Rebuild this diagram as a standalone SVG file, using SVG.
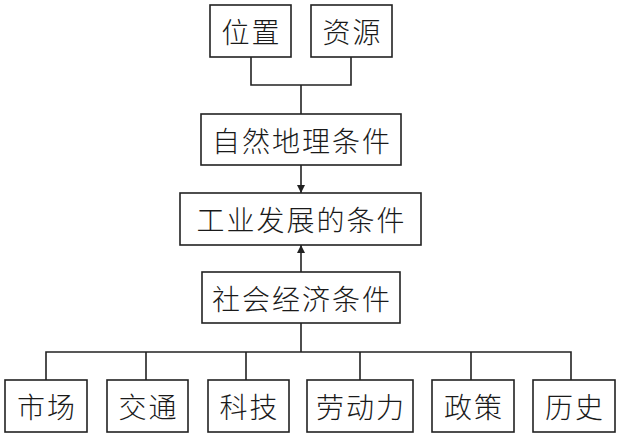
<svg xmlns="http://www.w3.org/2000/svg" width="619" height="435" viewBox="0 0 619 435">
<style>
.box{fill:#fff;stroke:#222;stroke-width:1.6}
.t{font-family:"Noto Sans CJK SC","Noto Sans",sans-serif;font-size:28px;fill:#1a1a1a;text-anchor:middle;dominant-baseline:central;letter-spacing:2px;font-weight:300}
.c{fill:none;stroke:#222;stroke-width:1.6}
</style>
<defs>
<marker id="ah" markerWidth="8" markerHeight="10" refX="8" refY="5" orient="auto" markerUnits="userSpaceOnUse">
<path d="M0,1 L8,5 L0,9 Z" fill="#222"/>
</marker>
</defs>
<rect width="619" height="435" fill="#fff"/>
<g id="connectors">
<path class="c" d="M251,57 V85 H351 V57 M301,85 V114"/>
<path class="c" d="M301,165 V193" marker-end="url(#ah)"/>
<path class="c" d="M301,272 V245" marker-end="url(#ah)"/>
<path class="c" d="M301,323 V352 M46,380 V352 H571 V380 M146,352 V380 M246,352 V380 M360,352 V380 M471,352 V380"/>
</g>
<g id="n-weizhi"><rect class="box" x="210" y="5" width="81" height="52"/><text class="t" x="251.5" y="31">位置</text></g>
<g id="n-ziyuan"><rect class="box" x="311" y="5" width="81" height="52"/><text class="t" x="352.5" y="31">资源</text></g>
<g id="n-ziran"><rect class="box" x="201" y="114" width="200" height="51"/><text class="t" x="302" y="140">自然地理条件</text></g>
<g id="n-gongye"><rect class="box" x="180" y="193" width="241" height="52"/><text class="t" x="301.5" y="219">工业发展的条件</text></g>
<g id="n-shehui"><rect class="box" x="202" y="272" width="198" height="51"/><text class="t" x="302" y="298">社会经济条件</text></g>
<g id="n-shichang"><rect class="box" x="5" y="380" width="82" height="52"/><text class="t" x="47" y="406">市场</text></g>
<g id="n-jiaotong"><rect class="box" x="107" y="380" width="81" height="52"/><text class="t" x="148.5" y="406">交通</text></g>
<g id="n-keji"><rect class="box" x="208" y="380" width="81" height="52"/><text class="t" x="249.5" y="406">科技</text></g>
<g id="n-laodongli"><rect class="box" x="307" y="380" width="106" height="52"/><text class="t" x="361" y="406">劳动力</text></g>
<g id="n-zhengce"><rect class="box" x="432" y="380" width="82" height="52"/><text class="t" x="474" y="406">政策</text></g>
<g id="n-lishi"><rect class="box" x="533" y="380" width="82" height="52"/><text class="t" x="575" y="406">历史</text></g>
</svg>
